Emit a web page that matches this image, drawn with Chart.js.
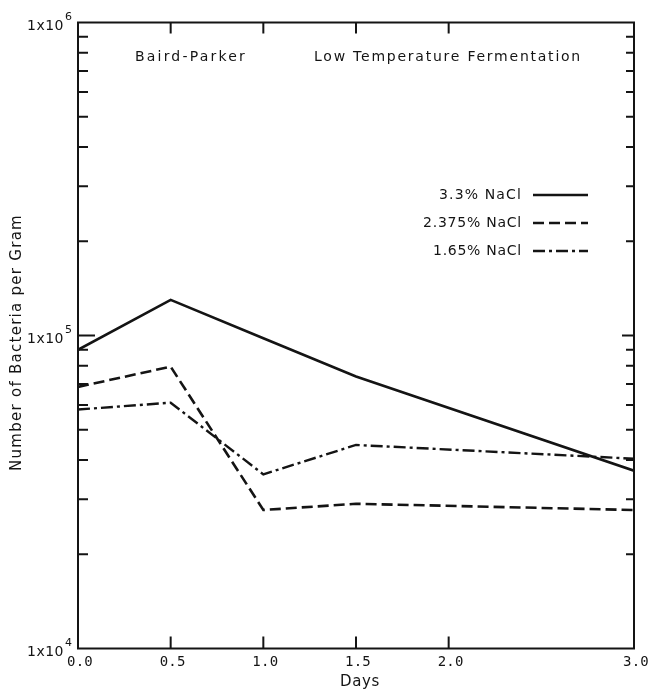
<!DOCTYPE html>
<html>
<head>
<meta charset="utf-8">
<script src="https://cdn.jsdelivr.net/npm/chart.js@4/dist/chart.umd.min.js"></script>
<style>
  html, body { margin: 0; padding: 0; background: #fff; }
  canvas { display: block; }
</style>
</head>
<body>
<canvas id="bacteriaChart" width="650" height="689"></canvas>
<script>
// data (days vs bacteria per gram)
const days = [0, 0.5, 1.0, 1.5, 3.0];
const nacl33 = [9.0e4, 1.3e5, 9.8e4, 7.4e4, 3.7e4];
const nacl2375 = [6.85e4, 7.95e4, 2.77e4, 2.9e4, 2.77e4];
const nacl165 = [5.8e4, 6.1e4, 3.6e4, 4.47e4, 4.04e4];

const seriesLabels = ['3.3% NaCl', '2.375% NaCl', '1.65% NaCl'];
const xTickValues = [0, 0.5, 1.0, 1.5, 2.0, 3.0];
const xTickLabels = ['0.0', '0.5', '1.0', '1.5', '2.0', '3.0'];
const yDecades = [1e4, 1e5, 1e6];
const yDecadeExp = ['4', '5', '6'];

const INK = '#141414';
const dashes = [[], [11, 5], [12, 4, 3, 4]];

function toPoints(ys) {
  return days.map((d, i) => ({ x: d, y: ys[i] }));
}

// draw text stretched with letter spacing to a given width
function fitText(ctx, text, left, cy, width) {
  ctx.letterSpacing = '0px';
  const w = ctx.measureText(text).width;
  const ls = (width - w) / text.length;
  ctx.letterSpacing = ls + 'px';
  ctx.textAlign = 'left';
  ctx.textBaseline = 'middle';
  ctx.fillText(text, left, cy);
  ctx.letterSpacing = '0px';
}

const framePlugin = {
  id: 'frame',
  afterDatasetsDraw(chart) {
    const ctx = chart.ctx;
    const area = chart.chartArea;
    const xs = chart.scales.x;
    const ys = chart.scales.y;
    ctx.save();
    ctx.strokeStyle = INK;
    ctx.fillStyle = INK;
    ctx.lineWidth = 2;
    ctx.setLineDash([]);
    ctx.strokeRect(area.left, area.top, area.right - area.left, area.bottom - area.top);

    // inside ticks on y (log minor)
    for (let d = 0; d < yDecades.length - 1; d++) {
      for (let m = 1; m <= 9; m++) {
        const v = yDecades[d] * m;
        if (v <= yDecades[0]) continue;
        const py = ys.getPixelForValue(v);
        const lenL = m === 1 ? 17 : 10;
        const lenR = m === 1 ? 12 : 8;
        ctx.beginPath();
        ctx.moveTo(area.left, py);
        ctx.lineTo(area.left + lenL, py);
        ctx.moveTo(area.right, py);
        ctx.lineTo(area.right - lenR, py);
        ctx.stroke();
      }
    }

    // inside ticks on x, top and bottom
    xTickValues.forEach(v => {
      if (v === 0 || v === 3) return;
      const px = xs.getPixelForValue(v);
      ctx.beginPath();
      ctx.moveTo(px, area.bottom);
      ctx.lineTo(px, area.bottom - 12);
      ctx.moveTo(px, area.top);
      ctx.lineTo(px, area.top + 11);
      ctx.stroke();
    });

    // x tick labels
    ctx.font = '14px "DejaVu Sans Mono"';
    xTickValues.forEach((v, i) => {
      const px = xs.getPixelForValue(v);
      fitText(ctx, xTickLabels[i], px - 11, 662, 26);
    });

    // y decade labels 1x10^n
    yDecades.forEach((v, i) => {
      const py = ys.getPixelForValue(v);
      ctx.font = '14px "DejaVu Sans"';
      fitText(ctx, '1x10', 27, py + 3.5, 37);
      ctx.font = '11px "DejaVu Sans"';
      ctx.textAlign = 'left';
      ctx.textBaseline = 'middle';
      ctx.fillText(yDecadeExp[i], 65, py - 5);
    });

    // axis titles
    ctx.font = '15px "DejaVu Sans"';
    fitText(ctx, 'Days', 340, 682, 40);
    ctx.save();
    ctx.translate(17, 343);
    ctx.rotate(-Math.PI / 2);
    fitText(ctx, 'Number of Bacteria per Gram', -128, 0, 257);
    ctx.restore();

    // header texts
    ctx.font = '14px "DejaVu Sans"';
    fitText(ctx, 'Baird-Parker', 135, 57, 112);
    fitText(ctx, 'Low Temperature Fermentation', 314, 57, 268);

    // legend
    const legY = [195, 223, 251];
    const legW = [83, 99, 89];
    seriesLabels.forEach((lab, i) => {
      ctx.font = '14px "DejaVu Sans"';
      fitText(ctx, lab, 522 - legW[i], legY[i], legW[i]);
      ctx.lineWidth = 2.5;
      ctx.setLineDash(dashes[i]);
      ctx.beginPath();
      ctx.moveTo(533, legY[i]);
      ctx.lineTo(588, legY[i]);
      ctx.stroke();
    });
    ctx.restore();
  }
};

const chart = new Chart(document.getElementById('bacteriaChart'), {
  type: 'line',
  data: {
    datasets: [
      {
        label: seriesLabels[0],
        data: toPoints(nacl33),
        borderColor: INK,
        borderWidth: 2.6,
        borderDash: dashes[0],
        pointRadius: 0,
        tension: 0
      },
      {
        label: seriesLabels[1],
        data: toPoints(nacl2375),
        borderColor: INK,
        borderWidth: 2.6,
        borderDash: dashes[1],
        pointRadius: 0,
        tension: 0
      },
      {
        label: seriesLabels[2],
        data: toPoints(nacl165),
        borderColor: INK,
        borderWidth: 2.4,
        borderDash: dashes[2],
        pointRadius: 0,
        tension: 0
      }
    ]
  },
  options: {
    responsive: false,
    animation: false,
    devicePixelRatio: 1,
    layout: {
      padding: { left: 78, right: 16, top: 22.5, bottom: 40.5 }
    },
    plugins: {
      legend: { display: false },
      tooltip: { enabled: false }
    },
    scales: {
      x: { type: 'linear', min: 0, max: 3, display: false },
      y: { type: 'logarithmic', min: 1e4, max: 1e6, display: false }
    }
  },
  plugins: [framePlugin]
});
</script>
</body>
</html>
